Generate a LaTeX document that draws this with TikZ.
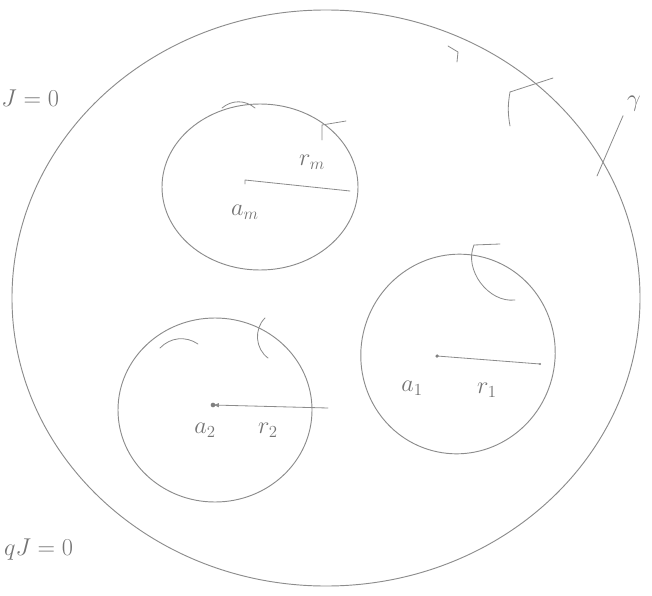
\documentclass[tikz,border=0pt]{standalone}
\usetikzlibrary{positioning,shapes.geometric,arrows.meta}
\tikzset{
  pencil/.style={draw=black!45, line width=0.8pt, line cap=round},
  regionbox/.style={pencil, ellipse, inner sep=0pt},
  radline/.style={pencil, line width=0.7pt},
  hook/.style={pencil, line width=0.7pt},
  lbl/.style={text=black!55, font=\huge}
}

\begin{document}
\begin{tikzpicture}[x=0.03cm, y=-0.03cm]
    \useasboundingbox (0,0) rectangle (652,596);

    % domains
    \node[regionbox, minimum width=18.84cm, minimum height=17.28cm] (outer) at (326,298) {};
    \node[regionbox, minimum width=5.88cm, minimum height=4.98cm] (Dm) at (260,187) {};
    \node[regionbox, minimum width=5.82cm, minimum height=5.52cm] (D2) at (215,410) {};
    \node[regionbox, minimum width=5.82cm, minimum height=6.0cm, rotate=-15] (D1) at (458,354) {};

    % radii
    \coordinate (cm) at (245,180);
    \coordinate (em) at (350,191);
    \coordinate (c2) at (213,405);
    \coordinate (e2) at (328,408);
    \coordinate (c1) at (437,356);
    \coordinate (e1) at (540,364);

    \draw[radline] (cm) -- ++(0,4) (cm) -- (em);
    \draw[radline, -{Latex[length=5pt]}] (e2) -- (c2);
    \fill[black!50] (c2) circle (2pt);
    \draw[radline] (c1) -- (e1);
    \fill[black!50] (c1) circle (1.5pt);
    \fill[black!50] (e1) circle (1pt);

    % labels
    \node[lbl] (am) at (245,212) {$a_m$};
    \node[lbl] (rm) at (312,162) {$r_m$};
    \node[lbl] (a2) at (205,430) {$a_2$};
    \node[lbl] (r2) at (268,430) {$r_2$};
    \node[lbl] (a1) at (412,388) {$a_1$};
    \node[lbl] (r1) at (487,390) {$r_1$};
    \node[lbl, anchor=west, inner xsep=1pt] (bc1) at (0,98) {$J=0$};
    \node[lbl, anchor=west] (bc2) at (0,550) {$qJ=0$};
    \node[lbl] (gam) at (634,104) {$\gamma$};

    % leader of the boundary
    \coordinate (gb) at (597,176);
    \draw[hook] (gb) -- (gam.south west);

    % orientation marks
    \draw[hook] (222,108) to[bend left=40] (255,108);
    \draw[hook] (160,348) to[bend left=40] (198,344);
    \draw[hook] (265,318) to[bend right=50] (268,358);
    \draw[hook] (474,245) to[bend right=60] (515,300);
    \draw[hook] (474,245) -- (500,244);
    \draw[hook] (448,46) -- (458,52) -- (457,62);
    \draw[hook] (510,92) -- (553,78);
    \draw[hook] (510,92) to[bend right=10] (510,126);
    \draw[hook] (346,121) -- (322,125) -- (322,140);
\end{tikzpicture}
\end{document}
